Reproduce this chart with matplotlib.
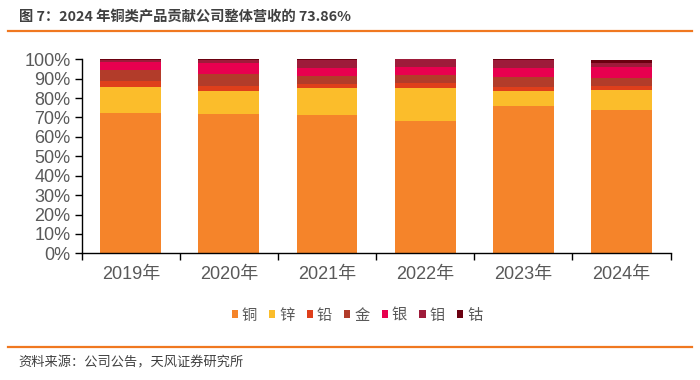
import numpy as np
import matplotlib.pyplot as plt

plt.rcParams['font.family'] = ['Liberation Sans', 'Noto Sans CJK SC', 'DejaVu Sans']

# -------------------
# DATA (% of revenue)
# -------------------
years = ["2019年", "2020年", "2021年", "2022年", "2023年", "2024年"]
names = ["铜", "锌", "铅", "金", "银", "钼", "钴"]
copper = [72.2, 71.8, 71.3, 68.4, 76.0, 73.86]
zinc = [13.5, 12.0, 13.9, 16.7, 7.5, 10.3]
lead = [3.0, 2.3, 2.1, 2.5, 2.1, 2.1]
gold = [5.6, 6.3, 4.1, 4.5, 5.1, 4.1]
silver = [4.5, 5.7, 4.1, 3.8, 4.8, 5.7]
moly = [0.8, 1.6, 4.3, 4.1, 4.3, 2.2]
cobalt = [0.4, 0.3, 0.2, 0.0, 0.2, 1.4]

colors = ["#F5842A", "#FBBD2B", "#DF3F1B", "#B23C2A", "#E8004F", "#9E1B3A", "#6B0010"]
series = [copper, zinc, lead, gold, silver, moly, cobalt]

# -------------------
# PLOT
# -------------------
fig = plt.figure(figsize=(7, 3.8), dpi=100)
ax = fig.add_axes([0.1167, 0.3334, 0.8413, 0.5106])

x = np.arange(len(years))
bottom = np.zeros(len(years))
for vals, name, c in zip(series, names, colors):
    ax.bar(x, vals, width=0.62, bottom=bottom, color=c, label=name)
    bottom += np.array(vals)

ax.set_xlim(-0.5, len(years) - 0.5)
ax.set_ylim(0, 100)
ax.set_yticks(np.arange(0, 101, 10))
ax.set_yticklabels([f"{v}%" for v in range(0, 101, 10)])
ax.set_xticks(x)
ax.set_xticklabels(years)
ax.set_xticks(np.arange(-0.5, len(years), 1), minor=True)

for s in ["top", "right"]:
    ax.spines[s].set_visible(False)
for s in ["left", "bottom"]:
    ax.spines[s].set_color("black")
    ax.spines[s].set_linewidth(1.0)

ax.tick_params(axis="y", length=5, width=1, colors="black", labelcolor="#595959", labelsize=13, pad=3)
ax.tick_params(axis="x", which="major", length=0, labelcolor="#595959", labelsize=13, pad=9)
ax.tick_params(axis="x", which="minor", length=5, width=1, colors="black")

leg = fig.legend(loc="center", bbox_to_anchor=(0.51, 0.171), ncol=7, frameon=False,
                 handlelength=0.4, handleheight=0.4, handletextpad=0.26, columnspacing=0.8,
                 prop={"family": ["Noto Sans CJK SC"], "size": 11})
for t in leg.get_texts():
    t.set_color("#595959")

# title + rules + source
fig.text(0.027, 0.955, "图 7：2024 年铜类产品贡献公司整体营收的 73.86%", fontsize=10.3,
         fontweight="bold", color="#404040", ha="left", va="center",
         family=["Noto Sans CJK SC"])
fig.add_artist(plt.Line2D([0.011, 0.989], [0.919, 0.919], color="#F07820", lw=1.6))
fig.add_artist(plt.Line2D([0.011, 0.989], [0.087, 0.087], color="#F07820", lw=1.6))
fig.text(0.026, 0.045, "资料来源：公司公告，天风证券研究所", fontsize=9.5,
         color="#404040", ha="left", va="center", family=["Noto Sans CJK SC"])

fig.savefig("out.png", dpi=100)
